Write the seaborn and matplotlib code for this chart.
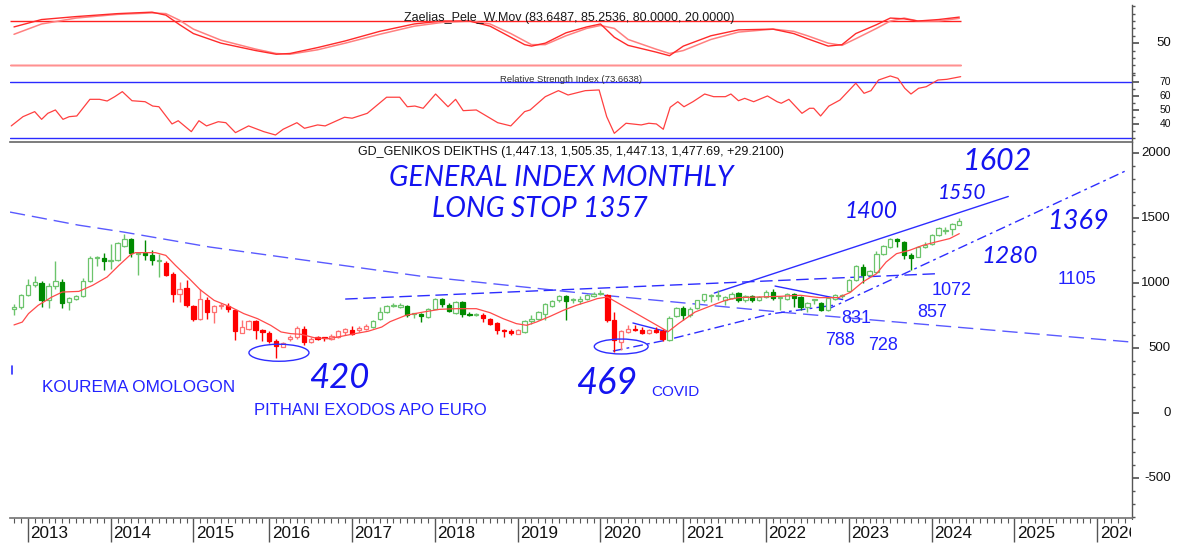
import numpy as np
import pandas as pd
import matplotlib
matplotlib.use("Agg")
import matplotlib.pyplot as plt
import seaborn as sns
from matplotlib.patches import Ellipse, Rectangle
from matplotlib.transforms import blended_transform_factory

# ---------------- data (month index 0 = Nov 2012; July 2015 has no bar) ----------------
opens = [800, 815, 913, 990, 1005, 869, 977, 1010, 856, 882, 902, 1020, 1195, 1195, 1175, 1182, 1290, 1338, 1223, 1233,
         1215, 1175, 1159, 1074, 921, 964, 823, 728, 875, 779, 823, 825, 792, 621, 646, 708, 644, 621, 556, 510,
         574, 587, 651, 549, 587, 582, 574, 587, 626, 644, 638, 651, 664, 728, 779, 828, 818, 823, 763, 761,
         741, 805, 882, 831, 775, 856, 766, 756, 759, 728, 695, 638, 631, 613, 626, 710, 728, 766, 823, 869,
         902, 870, 864, 882, 905, 921, 908, 720, 549, 626, 651, 644, 621, 644, 633, 567, 746, 813, 754, 813,
         869, 900, 903, 869, 890, 926, 869, 900, 875, 895, 936, 886, 882, 915, 895, 818, 870, 849, 798, 882,
         902, 941, 1028, 1128, 1062, 1087, 1223, 1282, 1338, 1318, 1215, 1205, 1279, 1300, 1369, 1405, 1420, 1447]
highs = [844, 920, 1036, 1056, 1015, 1002, 1169, 1030, 895, 910, 1044, 1210, 1210, 1236, 1305, 1320, 1382, 1351, 1240, 1331,
         1259, 1228, 1175, 1090, 1010, 1026, 835, 954, 895, 836, 850, 845, 805, 715, 715, 720, 650, 630, 570, 545,
         600, 670, 670, 590, 595, 590, 608, 640, 660, 672, 675, 690, 715, 820, 836, 850, 845, 830, 775, 770,
         810, 890, 890, 845, 862, 865, 780, 770, 775, 735, 705, 650, 650, 645, 715, 760, 785, 845, 870, 910,
         910, 890, 900, 915, 930, 951, 918, 779, 640, 680, 680, 665, 645, 665, 650, 745, 820, 825, 815, 875,
         920, 915, 950, 900, 930, 935, 908, 908, 900, 945, 955, 900, 925, 925, 905, 858, 882, 860, 895, 920,
         915, 1030, 1140, 1145, 1105, 1245, 1295, 1352, 1345, 1325, 1230, 1290, 1315, 1377, 1433, 1435, 1465, 1505]
lows = [759, 805, 905, 972, 818, 810, 960, 810, 792, 870, 895, 1010, 1133, 1105, 1113, 1175, 1280, 1202, 1067, 1177,
        1144, 1049, 1060, 856, 856, 818, 710, 720, 728, 698, 800, 780, 561, 615, 640, 569, 560, 540, 425, 508,
        560, 575, 523, 540, 565, 560, 565, 580, 605, 605, 625, 640, 660, 720, 775, 818, 810, 741, 730, 702,
        736, 800, 820, 780, 766, 740, 750, 750, 700, 680, 608, 590, 600, 608, 620, 690, 720, 720, 815, 855,
        720, 850, 840, 870, 895, 910, 700, 472, 485, 615, 630, 610, 610, 615, 560, 560, 740, 720, 740, 805,
        860, 855, 875, 835, 880, 860, 860, 860, 865, 885, 870, 798, 870, 820, 795, 780, 840, 785, 790, 875,
        890, 935, 1020, 1000, 1055, 1080, 1215, 1275, 1282, 1190, 1100, 1200, 1275, 1295, 1362, 1380, 1370, 1447]
closes = [818, 913, 990, 1010, 869, 977, 1015, 851, 887, 902, 1020, 1198, 1200, 1172, 1179, 1313, 1344, 1233, 1236, 1221,
          1177, 1179, 1067, 921, 959, 831, 723, 882, 780, 825, 836, 805, 631, 664, 708, 638, 626, 556, 518, 541,
          587, 656, 549, 569, 574, 578, 595, 631, 651, 613, 656, 669, 708, 779, 825, 835, 833, 759, 766, 746,
          805, 882, 844, 785, 856, 766, 756, 763, 736, 690, 644, 633, 618, 638, 710, 728, 779, 838, 864, 902,
          864, 876, 882, 908, 921, 923, 720, 567, 633, 651, 638, 618, 638, 626, 569, 736, 813, 754, 805, 869,
          915, 904, 906, 895, 921, 869, 900, 869, 895, 936, 890, 890, 915, 890, 818, 849, 875, 792, 890, 913,
          906, 1023, 1131, 1062, 1097, 1223, 1285, 1344, 1326, 1215, 1197, 1282, 1297, 1369, 1428, 1410, 1454, 1478]
trend = (["G"] * 22 + ["R"] * 30 + ["G"] * 16 + ["R"] * 6 + ["G"] * 12 + ["R"] * 9 + ["G"] * 43)

ma_x = [0, 1.2, 2.1, 3.5, 5.5, 7, 9.4, 11.4, 13.5, 15.2, 16.9, 17.6, 20.5, 22, 23.4, 25.4, 27, 29, 31.4, 33.3,
        35.3, 37.2, 38.7, 40.1, 41.6, 43.5, 45.5, 47.4, 49.4, 51.3, 53.3, 54.5, 56.8, 59.3, 61.7, 64.1, 67, 69, 70.9, 72.8,
        74.3, 75.7, 77.7, 79.6, 81.5, 83.5, 84.5, 86, 94.8, 96.3, 98.7, 101.2, 103.1, 105, 108, 111, 114, 116.7, 119.5, 121.2,
        123, 125, 126.4, 127.9, 129.8, 131.7, 133.6, 135.6, 137]
ma_v = [680, 702, 767, 831, 895, 933, 938, 985, 1049, 1138, 1221, 1236, 1236, 1215, 1138, 1036, 950, 869, 818, 767,
        728, 677, 626, 613, 608, 582, 574, 592, 613, 631, 664, 705, 754, 779, 800, 805, 805, 774, 728, 690,
        677, 702, 746, 792, 831, 864, 882, 895, 628, 690, 779, 831, 869, 890, 895, 900, 908, 890, 890, 930,
        1010, 1074, 1164, 1228, 1254, 1292, 1318, 1344, 1382]

st_x = [0, 4, 9, 15, 20, 22, 24, 26, 30, 35, 38, 40, 44, 48, 53, 58, 62, 66, 69, 72, 74, 75, 77, 80, 83, 85, 87, 89, 93, 95,
        97, 101, 105, 110, 113, 115, 118, 120, 122, 125, 127, 129, 131, 134, 137]
st_k = [72, 82, 86, 90, 92, 88, 75, 63, 50, 40, 35, 36, 44, 53, 66, 76, 80, 80, 73, 58, 48, 46, 50, 64, 72, 76, 58, 47, 38, 33,
        46, 60, 68, 69, 63, 56, 46, 48, 63, 75, 84, 83, 80, 82, 85.3]
st_d = [62, 76, 84, 89, 91, 90, 81, 69, 54, 42, 36, 35, 41, 50, 62, 73, 78, 80, 76, 63, 53, 48, 48, 60, 70, 74, 70, 55, 42, 36,
        40, 55, 65, 69, 66, 60, 50, 47, 56, 70, 80, 84, 80, 80, 83.6]

rsi_x = [-0.4, 1.3, 3.0, 4.0, 4.9, 6.0, 7.1, 8.0, 9.1, 11.0, 12.4, 13.5, 14.6, 15.7, 17.1, 19.0, 20.1, 21.0, 22.9, 23.8,
         25.7, 26.8, 27.9, 29.6, 30.7, 32.1, 34.0, 36.2, 37.9, 39.0, 41.0, 42.1, 44.0, 45.1, 47.9, 49.0, 51.2, 54.0, 55.9, 57.0,
         58.1, 59.3, 61.1, 62.9, 64.0, 65.1, 67.0, 70.1, 72.0, 74.0, 74.8, 77.0, 78.9, 80.3, 82.8, 84.8, 85.9, 87.0, 88.7, 90.9,
         92.0, 93.1, 94.1, 95.1, 96.2, 97.1, 98.4, 100.1, 101.4, 103.1, 103.9, 105.0, 105.9, 107.2, 109.2, 110.6, 111.2, 112.3, 114.2, 115.3,
         115.9, 116.9, 118.1, 119.7, 122.0, 123.2, 124.2, 125.3, 127.0, 128.1, 129.1, 130.0, 131.1, 132.2, 133.9, 135.2, 137.2]
rsi_v = [38.4, 45, 48.6, 43.1, 47.4, 49.8, 43.1, 45, 45.5, 57.4, 57.4, 56.2, 59.3, 62.9, 56.4, 55.7, 52.6, 52.1, 39.8, 42.1,
         34.3, 42.1, 38.4, 41.4, 40.7, 33.6, 38.4, 34.3, 31.9, 36, 40.7, 36.7, 39.1, 38.4, 44.6, 43.9, 47.4, 58.9, 58.9, 52.1,
         52.6, 51, 61.2, 52.1, 57.4, 49.3, 49.8, 40.7, 38.4, 48.6, 49.8, 59.3, 63.6, 60.5, 63.6, 64.1, 45, 33.1, 40.3, 39.1,
         40.3, 39.8, 36, 51.7, 55.7, 52.1, 55.7, 61.2, 59.3, 59.3, 61.2, 56.4, 58.1, 55.7, 59.8, 55.7, 54.6, 57.4, 47.4, 51,
         51, 45.5, 52.6, 56.9, 68.9, 61.7, 63.6, 71.2, 74.1, 72.4, 65.3, 61.2, 65.3, 66.4, 71.2, 71.7, 73.6]

year_idx = [2, 14, 26, 37, 49, 61, 73, 85, 97, 109, 121, 133, 145, 157]
year_lbl = ["2013", "2014", "2015", "2016", "2017", "2018", "2019", "2020", "2021", "2022", "2023", "2024", "2025", "2026"]
price_ticks = [-500, 0, 500, 1000, 1500, 2000]
price_lbls = ["-500", "0", "500", "1000", "1500", "2000"]
rsi_ticks = [40, 50, 60, 70]
rsi_lbls = ["40", "50", "60", "70"]

# trend lines (month index, price)
trA_x = [-0.58, 9.3, 15.8, 28.4, 58.8, 83.5, 111.0, 162.0]
trA_v = [1548, 1448, 1395, 1279, 1056, 918, 779, 548]
trB_x = [48.0, 134.2]; trB_v = [879, 1075]
trD_x = [86.8, 94.6, 109.6, 119.0]; trD_v = [479, 564, 764, 833]
trE_x = [117.7, 161.4]; trE_v = [795, 1872]
trF_x = [101.5, 144.1]; trF_v = [925, 1668]
trG_x = [89.7, 94.8]; trG_v = [695, 625]
trH_x = [110.3, 120.1]; trH_v = [979, 875]

# ---------------- style ----------------
sns.set_theme(style="white")
plt.rcParams["font.family"] = ["Liberation Sans", "DejaVu Sans"]
plt.rcParams["lines.scale_dashes"] = False

W, H = 1180, 549
fig = plt.figure(figsize=(W / 100, H / 100), dpi=100)
fig.patch.set_facecolor("white")


def rect(x0, y0, x1, y1):
    return [x0 / W, 1 - y1 / H, (x1 - x0) / W, (y1 - y0) / H]


ax_st = fig.add_axes(rect(10, 5, 1132, 74))
ax_rsi = fig.add_axes(rect(10, 74, 1132, 142))
ax = fig.add_axes(rect(10, 142, 1132, 518))
XL = (-0.58, 162.03)
AXC = "#555555"
for a in (ax_st, ax_rsi, ax):
    a.set_facecolor("white")
    a.set_xlim(*XL)
    for s in ("left", "top", "bottom"):
        a.spines[s].set_visible(False)
    a.spines["right"].set_color(AXC)
    a.spines["right"].set_linewidth(1.0)
    a.yaxis.tick_right()
    a.grid(False)

# ---------------- top panel: Zaelias ----------------
ax_st.set_ylim(8.2, 101.7)
dst = pd.DataFrame({"idx": st_x, "k": st_k, "d": st_d})
ax_st.hlines([80, 20], -0.58, 137.2, colors="#ff2020", linewidth=1.0)
ax_st.hlines([20.8], -0.58, 137.2, colors="#ff9090", linewidth=1.0)
sns.lineplot(data=dst, x="idx", y="d", ax=ax_st, color="#ff8080", linewidth=1.1, estimator=None, sort=False)
sns.lineplot(data=dst, x="idx", y="k", ax=ax_st, color="#ff2a2a", linewidth=1.0, estimator=None, sort=False)
ax_st.set_xticks([])
ax_st.set_yticks([50])
ax_st.set_yticks([10, 20, 30, 40, 60, 70, 80, 90, 100], minor=True)
ax_st.tick_params(axis="y", which="major", length=5, color=AXC, labelright=False, right=True, labelleft=False)
ax_st.tick_params(axis="y", which="minor", length=2.5, color=AXC, right=True)
ax_st.set_xlabel(""); ax_st.set_ylabel("")
bt = blended_transform_factory(ax_st.transAxes, ax_st.transData)
ax_st.text((1171 - 10) / 1122, 50, "50", transform=bt, ha="right", va="center", fontsize=9.5, color="#111111")
fig.text(569.5 / W, 1 - 18 / H, "Zaelias_Pele_W.Mov (83.6487, 85.2536, 80.0000, 20.0000)",
         ha="center", va="center", fontsize=9, color="#1a1a1a")

# ---------------- RSI panel ----------------
ax_rsi.set_ylim(26.9, 75.5)
drsi = pd.DataFrame({"idx": rsi_x, "rsi": rsi_v})
ax_rsi.axhline(70, color="#2a2aff", linewidth=1.0)
ax_rsi.axhline(30, color="#2a2aff", linewidth=1.0)
sns.lineplot(data=drsi, x="idx", y="rsi", ax=ax_rsi, color="#ff4040", linewidth=0.9, estimator=None, sort=False)
ax_rsi.set_xticks([])
ax_rsi.set_yticks(rsi_ticks)
ax_rsi.set_yticks([30, 35, 45, 55, 65, 75], minor=True)
ax_rsi.tick_params(axis="y", which="major", length=5, color=AXC, labelright=False, right=True, labelleft=False)
ax_rsi.tick_params(axis="y", which="minor", length=2.5, color=AXC, right=True)
ax_rsi.set_xlabel(""); ax_rsi.set_ylabel("")
bt = blended_transform_factory(ax_rsi.transAxes, ax_rsi.transData)
for v, l in zip(rsi_ticks, rsi_lbls):
    ax_rsi.text((1171 - 10) / 1122, v, l, transform=bt, ha="right", va="center", fontsize=7.5, color="#111111")
fig.text(571.5 / W, 1 - 80 / H, "Relative Strength Index (73.6638)", ha="center", va="center",
         fontsize=6.8, color="#333333")

# ---------------- main price panel ----------------
ax.set_ylim(-805, 2087)
ax.spines["top"].set_visible(True)
ax.spines["top"].set_color("#666666")
ax.spines["top"].set_linewidth(1.2)
ax.spines["bottom"].set_visible(True)
ax.spines["bottom"].set_color("#777777")

idx = np.arange(len(closes))
o = np.array(opens, float); c = np.array(closes, float)
hi = np.array(highs, float); lo = np.array(lows, float)
up = c >= o
GL, GD, RL, RD = "#6cc46c", "#008a00", "#ff7070", "#ff0000"
edge, face, wick = [], [], []
for i in range(len(c)):
    if trend[i] == "G":
        col = GL if up[i] else GD
    else:
        col = RL if up[i] else RD
    edge.append(col)
    face.append("white" if up[i] else col)
    wick.append(col)
body_lo = np.minimum(o, c)
body_h = np.maximum(np.abs(c - o), 8)
ax.vlines(idx, lo, hi, colors=wick, linewidth=1.0, zorder=2)
ax.bar(idx, body_h, bottom=body_lo, width=0.62, color=face, edgecolor=edge, linewidth=0.9, zorder=3)

dma = pd.DataFrame({"idx": ma_x, "ma": ma_v})
sns.lineplot(data=dma, x="idx", y="ma", ax=ax, color="#ff4a4a", linewidth=0.9, estimator=None, sort=False, zorder=4)

BL = "#2d2dff"
ax.plot(trA_x, trA_v, color="#5a5aff", linewidth=1.0, dashes=(11, 5), zorder=1)
ax.plot(trB_x, trB_v, color=BL, linewidth=1.0, dashes=(9, 4), zorder=1)
ax.plot(trD_x, trD_v, color=BL, linewidth=1.0, dashes=(7, 3, 2, 3), zorder=1)
ax.plot(trE_x, trE_v, color=BL, linewidth=1.0, dashes=(7, 3, 2, 3), zorder=1)
ax.plot(trF_x, trF_v, color=BL, linewidth=1.0, zorder=1)
ax.plot(trG_x, trG_v, color=BL, linewidth=1.0, zorder=1)
ax.plot(trH_x, trH_v, color=BL, linewidth=1.0, zorder=1)
ax.plot([-0.3, -0.3], [302, 364], color=BL, linewidth=1.2)

ax.add_patch(Ellipse((38.4, 466), 8.7, 131, fill=False, edgecolor=BL, linewidth=1.0, zorder=5))
ax.add_patch(Ellipse((88.0, 514), 7.8, 115, fill=False, edgecolor=BL, linewidth=1.0, zorder=5))

# axis ticks
ax.set_yticks(price_ticks)
ax.set_yticks([v for v in range(-800, 2100, 100) if v % 500], minor=True)
ax.tick_params(axis="y", which="major", length=5, color=AXC, labelright=False, right=True, labelleft=False)
ax.tick_params(axis="y", which="minor", length=2.5, color=AXC, right=True)
ax.set_xticks(year_idx)
ax.set_xticks(list(range(0, 163)), minor=True)
ax.tick_params(axis="x", which="major", length=17, color=AXC, width=1.0, labelbottom=False, bottom=True)
ax.tick_params(axis="x", which="minor", length=3.6, color=AXC, width=0.8, bottom=True)
ax.set_xlabel(""); ax.set_ylabel("")
bt = blended_transform_factory(ax.transAxes, ax.transData)
for v, l in zip(price_ticks, price_lbls):
    ax.text((1171 - 10) / 1122, v, l, transform=bt, ha="right", va="center", fontsize=9.5, color="#111111")
btx = blended_transform_factory(ax.transData, ax.transAxes)
for v, l in zip(year_idx, year_lbl):
    ax.text(v + 0.35, -15 / 376, l, transform=btx, ha="left", va="center", fontsize=12.3,
            color="#111111", clip_on=False)
# the last year label is cut by the chart edge, as in the original
fig.add_artist(Rectangle((1131 / W, 0), (W - 1131) / W, 29 / H, transform=fig.transFigure,
                         facecolor="white", edgecolor="none", zorder=10))

fig.text(571 / W, 1 - 152.5 / H, "GD_GENIKOS DEIKTHS (1,447.13, 1,505.35, 1,447.13, 1,477.69, +29.2100)",
         ha="center", va="center", fontsize=9, color="#111111")

# annotations
HW = dict(color="#1414f0", family=["Lato", "DejaVu Sans"], style="italic", weight="normal",
          ha="center", va="center")
ax.text(79.3, 1809, "GENERAL INDEX MONTHLY", fontsize=20.5, **HW)
ax.text(76.2, 1571, "LONG STOP 1357", fontsize=20, **HW)
ax.text(142.5, 1941, "1602", fontsize=22, **HW)
ax.text(137.4, 1695, "1550", fontsize=15, **HW)
ax.text(124.3, 1556, "1400", fontsize=16.5, **HW)
ax.text(154.2, 1472, "1369", fontsize=19.5, **HW)
ax.text(144.3, 1210, "1280", fontsize=17.5, **HW)
ax.text(47.2, 272, "420", fontsize=25, **HW)
ax.text(85.9, 233, "469", fontsize=26, **HW)

RG = dict(color="#2222ff", ha="center", va="center")
ax.text(154.1, 1033, "1105", fontsize=13, **RG)
ax.text(135.9, 948, "1072", fontsize=13, **RG)
ax.text(133.0, 772, "857", fontsize=13, **RG)
ax.text(122.0, 733, "831", fontsize=13, **RG)
ax.text(119.7, 564, "788", fontsize=13, **RG)
ax.text(125.9, 518, "728", fontsize=13, **RG)
ax.text(95.9, 164, "COVID", fontsize=11, **RG)
ax.text(18.1, 195, "KOUREMA OMOLOGON", fontsize=12.3, **RG)
ax.text(51.6, 18, "PITHANI EXODOS APO EURO", fontsize=12, **RG)

fig.savefig("out.png", dpi=100, facecolor="white")
